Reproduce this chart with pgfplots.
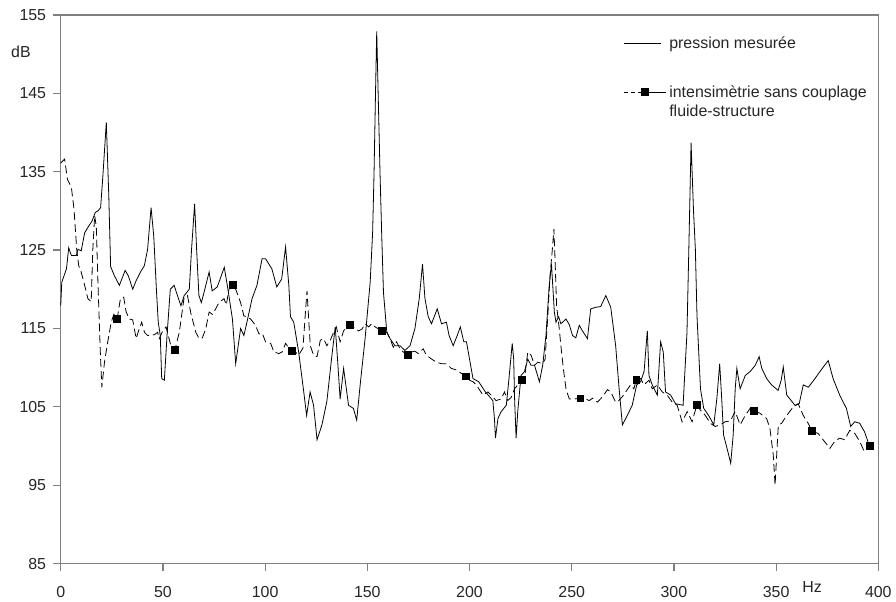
\documentclass[border=0pt]{standalone}
\usepackage{fontspec}
\setmainfont{Liberation Sans}
\usepackage{pgfplots}
\pgfplotsset{compat=1.18}
\definecolor{axisgray}{RGB}{128,128,128}
\pgfplotsset{
    solidleg/.style={legend image code/.code={\draw[##1] (0pt,0pt) -- (28pt,0pt);}},
    dashleg/.style={legend image code/.code={
        \draw[##1, mark=none, dash pattern=on 3pt off 2.5pt] (0pt,0pt) -- (13pt,0pt);
        \draw[##1, mark=none] (13pt,0pt) -- (32pt,0pt);
        \draw[##1, only marks] plot coordinates {(16pt,0pt)};}},
}

\begin{document}
\begin{tikzpicture}
\begin{axis}[
    name=ax,
    scale only axis,
    width=615.75pt, height=413.25pt,
    xmin=0, xmax=400, ymin=85, ymax=155,
    xtick={0,50,...,400},
    ytick={85,95,...,155},
    tick pos=left,
    tick align=outside,
    major tick length=5.5pt,
    axis line style={axisgray, line width=0.9pt},
    every tick/.style={axisgray, line width=0.9pt},
    ticklabel style={font=\fontsize{12}{14}\selectfont, text=black!85},
    xticklabel style={yshift=-8pt},
    yticklabel style={xshift=-2pt},
    /pgf/number format/assume math mode=true,
    /pgf/number format/1000 sep={},
    clip=false,
    legend style={at={(0.683,0.971)}, anchor=north west, draw=none, fill=none,
        font=\fontsize{12}{14}\selectfont, text=black!85,
        cells={anchor=west}, row sep=0.5pt},
    legend cell align=left,
]
% pression mesuree
\addplot[black, line width=0.6pt, mark=none, solidleg]
coordinates {
(0,117.9) (0.5,120.9) (2.8,122.6) (3.9,125.3) (5.2,124.3) (7.6,124.3) (8.4,125.1)
(10,124.9) (11.7,127.2) (13.3,127.9) (15.3,128.7) (16.9,129.8) (18.2,130.0) (19.5,130.4)
(20.6,134.4) (22.3,141.3) (23.5,132) (24.4,122.9) (26.3,121.7) (28.7,120.5) (31.5,122.4)
(33.1,121.7) (35.2,120.0) (36.9,121.1) (39.0,122.2) (40.9,123.0) (42.5,125.1) (44.2,130.4)
(45.5,126.8) (46.8,120) (47.7,115.8) (48.7,114.1) (49.4,108.6) (50.7,108.4) (52.0,114.1)
(53.6,120.0) (55.5,120.5) (57.1,119.2) (58.8,117.9) (60.4,119.2) (62.9,120.0) (64.0,125.1)
(65.5,130.9) (66.5,125) (67.6,119.2) (68.8,118.3) (70.5,120) (72.6,122.2) (74.1,119.8)
(76.6,120.3) (80.0,122.8) (81.5,120.5) (84.0,116.2) (85.6,110.5) (88.0,115.0) (89.6,114.1)
(91.1,115.8) (93.6,118.8) (96.0,120.5) (98.5,123.9) (100.2,123.9) (103.3,122.6) (105.7,120.3)
(108.1,121.3) (110.0,125.4) (111.6,120.5) (112.4,116.5) (114.0,115.8) (116.4,112.0) (118.9,106.9)
(120.3,103.9) (122.0,106.9) (123.7,105.2) (125.4,100.8) (127.8,102.7) (130.2,105.7) (132.7,111.6)
(134.3,115.2) (135.5,110.8) (136.7,106.0) (138.4,109.9) (140.8,105.2) (143.2,104.8) (144.8,103.3)
(146.5,107.8) (148.9,113.7) (151.4,120.9) (152.6,127.3) (153.3,135) (154.0,145) (154.6,152.9)
(155.3,145) (156.2,135) (157.0,127.3) (157.9,119.6) (159.5,114.6) (161.1,113.7) (163.5,112.8)
(166.0,112.8) (168.4,112.2) (170.9,112.8) (173.3,115.0) (175.4,118.8) (177.0,123.2) (178.2,118.8)
(179.8,116.5) (181.4,115.6) (184.2,117.5) (186.3,115.6) (188.7,115.8) (190.0,114.1) (192.0,112.8)
(194.0,114.1) (195.5,115.2) (197.2,113.3) (198.5,113.3) (200.0,111.1) (201.7,108.6) (204.5,108.2)
(207.5,107) (211.4,105.8) (212.2,103.5) (212.7,101.0) (213.9,103.5) (215.5,104.4) (218.0,105.2)
(219.3,108.6) (220.9,113.1) (221.6,111.1) (222.1,105.7) (222.8,101.0) (223.6,104.4) (225.2,109.0)
(226.9,109.5) (228.5,111.1) (230.1,110.3) (231.8,110.3) (234.2,108.2) (235.8,110.3) (237.4,114.1)
(239.0,120.5) (240.1,123.2) (241.5,117.1) (242.3,115.8) (243.6,116.5) (244.7,115.6) (247.2,116.2)
(248.8,115.5) (250.4,114.1) (252.0,113.8) (253.7,115.4) (255.0,114.8) (257.7,113.7) (259.3,117.5)
(261.8,117.7) (264.2,117.8) (266.7,119.2) (269.1,117.7) (271.5,112.8) (273.2,107.3) (274.8,102.7)
(277.2,103.9) (279.6,105.2) (281.8,107.8) (283.7,108.2) (285.4,109.5) (287.0,114.7) (287.8,109.0)
(289.4,107.8) (291.9,106.5) (293.5,113.3) (294.8,112.0) (295.9,106.9) (298.4,106.5) (300.8,105.4)
(304.5,105.2) (306.4,114.5) (307.3,125.1) (308.4,138.7) (309.6,130) (310.5,125.1) (311.3,116.6)
(313.0,107.3) (314.6,104.8) (317.0,103.9) (319.5,102.7) (321.0,106) (322.4,110.5) (323.4,106.0)
(324.3,101.4) (326.0,99.7) (327.8,97.8) (329.0,101.4) (330.0,107.3) (330.8,109.9) (332.4,107.3)
(334.9,109.0) (337.3,109.5) (339.8,110.3) (341.7,111.4) (343.0,109.9) (345.4,108.6) (347.8,107.8)
(351.0,107.1) (352.5,108.4) (353.5,110.1) (355.2,106.5) (356.8,106.0) (359.2,105.2) (361.3,105.4)
(363.3,107.8) (365.8,107.5) (369.0,108.6) (372.0,109.7) (375.5,110.9) (377.9,108.6) (381.1,106.5)
(384.4,104.8) (386.5,102.5) (388.5,103.1) (390.9,102.9) (393.3,101.8) (395.0,100.5) (395.8,100.0)
};
\addlegendentry{pression mesurée}
% intensimetrie sans couplage
\addplot[black, line width=0.6pt, dash pattern=on 6pt off 3pt, mark=none, forget plot]
coordinates {
(0,136.1) (1.9,136.6) (3.3,134.0) (5.2,133.0) (6.5,130.2) (7.8,125.1) (8.8,123.0) (10.0,122.2)
(11.7,120.5) (13.3,118.8) (14.9,118.4) (15.7,125.1) (16.6,129.4) (17.4,128) (18.2,120.9)
(19.3,112.4) (20.1,107.5) (21.4,110.7) (23.0,113.3) (24.7,115.8) (26.0,116.8) (27.6,116.2)
(29.2,118.8) (30.8,119.0) (32.0,117.1) (33.6,116.2) (35.2,116.1) (36.9,113.7) (38.2,114.8)
(39.6,115.8) (41.0,114.5) (42.5,114.1) (45.8,114.2) (47.4,114.5) (48.2,113.7) (49.9,114.7)
(51.5,115.2) (53.9,112.8) (55.9,112.3) (58.0,114.5) (59.6,117.5) (60.4,119.0) (62.0,119.2)
(63.7,116.9) (66.1,114.5) (67.7,113.7) (69.3,113.8) (71.0,115.0) (72.6,117.1) (74.2,116.8)
(75.8,117.5) (77.4,118.3) (79.9,118.8) (81.0,118.0) (82.3,120.0) (84.0,120.6) (85.6,120.0)
(88.0,118.3) (89.6,116.6) (91.2,116.5) (92.9,116.2) (95.3,115.4) (97.0,114.3) (98.6,114.4)
(100.2,113.3) (102.7,113.1) (104.3,112.0) (106.7,111.8) (108.3,112.0) (110.0,113.1) (111.6,112.5)
(113.2,112.2) (114.8,112.0) (116.4,111.6) (118.5,112.5) (119.7,117) (120.5,119.8) (121.3,116.2)
(122.1,112.8) (123.7,111.6) (125.4,111.4) (127.0,113.5) (128.6,113.7) (130.2,112.8) (131.9,113.5)
(133.5,114.5) (134.8,115.2) (135.5,114.5) (136.7,113.3) (138.4,114.7) (141.3,115.5) (143.2,115.2)
(145.7,114.7) (147.3,114.9) (149.0,115.6) (150.6,115.2) (152.2,115.6) (153.8,115.2) (157.0,114.7)
(159.5,114.5) (161.1,113.7) (162.7,112.6) (164.3,113.3) (166.0,112.4) (167.6,112.0) (169.6,111.6)
(171.6,112.0) (173.3,112.1) (174.9,111.8) (177.3,112.4) (178.9,111.6) (181.4,111.1) (183.8,110.7)
(186.3,110.5) (188.7,110.5) (191.1,109.9) (193.6,109.7) (198.1,108.9) (200.0,108.4) (201.7,108.2)
(203.3,107.8) (206.6,106.5) (209.0,106.9) (210.6,106.5) (213.0,105.8) (215.5,106.0) (217.1,106.9)
(218.7,105.8) (220.4,106.2) (222.0,107.3) (225.6,108.4) (226.9,108.6) (228.5,112.0) (230.1,111.6)
(231.8,110.3) (233.4,110.7) (235.8,110.5) (237.0,111.1) (238.2,116.2) (239.4,121.7) (240.4,124.7)
(241.3,127.7) (242.0,122.6) (242.6,117.9) (243.9,115.0) (244.7,112.8) (245.9,109.9) (247.2,107.3)
(248.8,106.0) (251.2,106.0) (254.2,106.1) (257.0,106.0) (258.6,105.8) (260.2,106.1) (262.6,105.6)
(265.1,106.3) (267.5,107.2) (269.1,106.9) (271.5,105.6) (272.3,105.6) (274.8,106.3) (277.2,107.2)
(278.8,107.8) (280.4,107.3) (281.6,108.4) (283.7,108.6) (285.4,107.8) (287.8,108.4) (289.4,107.3)
(291.9,107.8) (294.3,106.9) (296.7,106.5) (299.2,105.6) (301.6,105.2) (304.0,103.1) (306.5,104.4)
(308.9,103.1) (311.3,105.3) (312.9,104.6) (315.4,103.9) (317.8,102.9) (320.2,102.5) (322.7,102.7)
(325.1,103.1) (327.6,103.2) (330.0,104.4) (332.4,102.7) (334.9,103.9) (337.3,104.8) (338.9,104.5)
(342.0,104.2) (345.4,103.5) (347.0,102.2) (348.6,98.9) (349.5,95.0) (350.3,98.9) (351.1,102.7)
(352.7,102.9) (355.2,103.9) (358.4,105.0) (360.8,105.4) (363.3,103.9) (365.7,102.9) (367.6,101.9)
(370.6,101.6) (373.0,100.8) (376.3,99.7) (378.7,100.6) (381.1,101.0) (383.6,100.8) (386.0,102.0)
(388.5,101.6) (390.9,100.6) (392.8,99.5) (395.8,100.0)
};
% marqueurs
\addplot[only marks, mark=square*, mark size=2.6pt, black, forget plot]
coordinates {
(27.6,116.2) (55.9,112.3) (84.0,120.6) (113.2,112.2) (141.3,115.5) (157.0,114.7)
(169.6,111.6) (198.1,108.9) (225.6,108.4) (254.2,106.1) (281.6,108.4) (311.3,105.3)
(338.9,104.5) (367.6,101.9) (395.8,100.0)
};
\addlegendimage{empty legend}
\addlegendentry{\rule{0pt}{16pt}}
\addlegendimage{black, line width=0.6pt, mark=square*, mark size=2.6pt, dashleg}
\addlegendentry{intensimètrie sans couplage}
\addlegendimage{empty legend}
\addlegendentry{fluide-structure}
\node[font=\fontsize{12}{14}\selectfont, text=black!85] at (axis cs:-19.5,150.3) {dB};
\node[font=\fontsize{12}{14}\selectfont, text=black!85] at (axis cs:367.6,85) [yshift=-18pt] {Hz};
\end{axis}
\path (ax.south west) ++(-45.75pt,-26.25pt);
\path (ax.north east) ++(10.5pt,11.25pt);
\end{tikzpicture}
\end{document}
